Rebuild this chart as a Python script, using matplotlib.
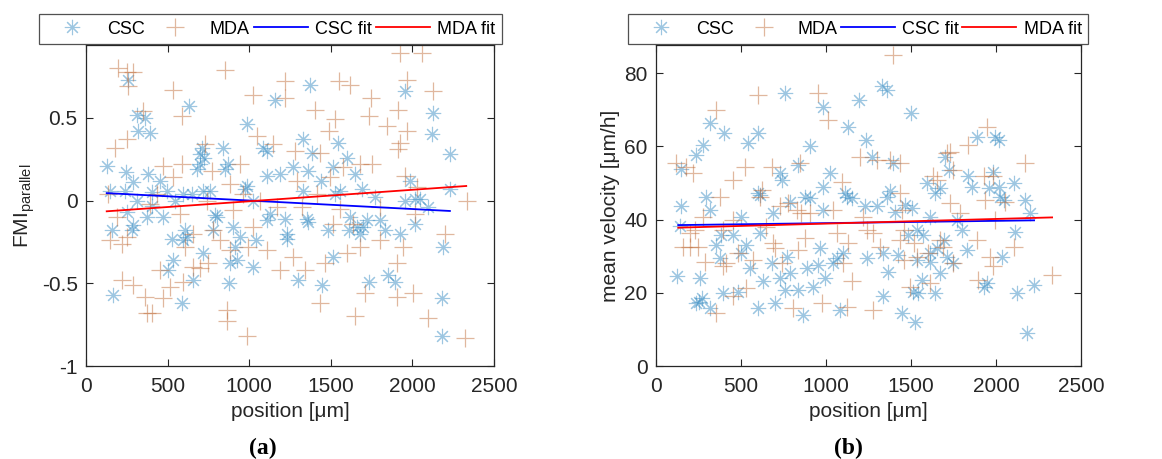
import numpy as np
import matplotlib.pyplot as plt

plt.rcParams['font.family'] = ['Liberation Sans', 'DejaVu Sans']
plt.rcParams['axes.unicode_minus'] = False
plt.rcParams['mathtext.fontset'] = 'custom'
plt.rcParams['mathtext.rm'] = 'Liberation Sans'

########################################################
# data
# (a) FMI parallel vs position
csc_a_x = [131, 259, 310, 320, 361, 392, 157, 163, 245, 239, 147, 290, 310, 249, 280, 290,
           382, 402, 453, 474, 494, 525, 504, 535, 545, 592, 607, 617, 596, 590, 633, 647,
           658, 678, 699, 709, 723, 719, 699, 719, 760, 780, 801, 790, 837, 850, 872, 882,
           878, 903, 923, 915, 944, 984, 974, 984, 1021, 1025, 1042, 1087, 1107, 1107, 1107,
           1127, 1158, 1189, 1219, 1230, 1234, 1270, 1301, 1328, 1332, 1352, 1362, 1373, 1383,
           1362, 1443, 1444, 1483, 1511, 1516, 1546, 1526, 1556, 1597, 1618, 1614, 1648, 1658,
           1679, 1699, 1689, 1720, 1736, 1771, 1801, 1832, 1852, 1893, 1924, 1954, 1985, 1954,
           2016, 2016, 2047, 2098, 2128, 2122, 2190, 2179, 2183, 2230, 2230, 372, 402]
csc_a_y = [0.21, 0.73, 0.52, 0.42, 0.50, 0.41, -0.18, -0.57, 0.17, 0.06, 0.06, 0.11, 0.00,
           -0.07, -0.18, -0.15, 0.16, 0.05, 0.12, -0.10, 0.06, -0.23, -0.42, -0.36, 0.00, 0.04,
           -0.18, -0.22, -0.24, -0.62, 0.57, 0.04, -0.48, 0.19, 0.28, 0.32, 0.26, 0.06, 0.22,
           -0.32, 0.06, -0.18, -0.10, -0.09, 0.32, 0.19, 0.22, -0.38, -0.50, -0.16, -0.36,
           -0.28, -0.22, 0.46, 0.07, 0.09, -0.40, 0.00, -0.24, 0.32, 0.30, 0.15, -0.12, -0.08,
           0.61, 0.16, -0.11, -0.20, -0.23, 0.20, -0.48, 0.37, 0.06, -0.11, -0.13, 0.70, 0.29,
           0.18, 0.12, -0.51, -0.18, -0.34, 0.20, 0.35, 0.04, 0.06, 0.26, -0.10, -0.18, 0.16,
           -0.16, -0.20, -0.16, 0.07, -0.12, -0.49, 0.02, -0.12, -0.18, -0.45, -0.49, -0.20,
           0.66, 0.12, 0.00, -0.14, 0.01, 0.01, -0.04, 0.53, 0.40, -0.28, -0.59, -0.82, 0.28,
           0.07, -0.10, -0.03]
mda_a_x = [198, 249, 290, 255, 531, 586, 852, 1025, 1219, 1219, 1552, 1618, 1924, 2057, 1965,
           2128, 1746, 1736, 1403, 1524, 1489, 1842, 1914, 1965, 1924, 1914, 1046, 1148, 178,
           249, 351, 474, 586, 729, 770, 882, 1281, 1291, 1434, 1495, 1577, 1679, 1750, 1954,
           2026, 2332, 137, 147, 188, 219, 249, 219, 290, 361, 372, 402, 474, 453, 515, 596,
           658, 699, 750, 862, 862, 984, 882, 995, 1025, 1107, 1189, 1270, 1342, 1434, 1464,
           1597, 1648, 1679, 1710, 1801, 1903, 1903, 2006, 2098, 2200, 2322, 1944, 780, 658,
           535, 433, 392, 739, 903, 1066, 964, 1168, 1321, 1556, 1638, 1516, 1413, 1801, 2016,
           607, 944, 821, 576]
mda_a_y = [0.80, 0.78, 0.78, 0.69, 0.67, 0.51, 0.79, 0.64, 0.72, 0.62, 0.72, 0.70, 0.89, 0.89,
           0.73, 0.66, 0.62, 0.51, 0.55, 0.49, 0.42, 0.45, 0.55, 0.42, 0.35, 0.31, 0.39, 0.34,
           0.32, 0.37, 0.54, 0.21, 0.22, 0.34, 0.18, 0.10, 0.30, 0.12, 0.29, 0.14, 0.20, 0.22,
           0.22, 0.15, 0.08, 0.00, 0.04, -0.24, -0.10, -0.26, -0.22, -0.48, -0.51, -0.58, -0.68,
           -0.68, -0.59, -0.42, -0.52, -0.49, -0.40, -0.41, -0.38, -0.66, -0.73, -0.82, -0.30,
           -0.28, -0.16, -0.30, -0.42, -0.34, -0.42, -0.62, -0.38, -0.32, -0.70, -0.28, -0.56,
           -0.24, -0.38, -0.58, -0.56, -0.71, -0.20, -0.83, -0.28, -0.18, -0.20, 0.14, 0.04,
           -0.02, 0.00, -0.06, 0.00, 0.04, -0.04, -0.04, -0.05, -0.14, -0.14, 0.04, -0.04,
           -0.08, -0.28, 0.22, -0.24, -0.08]

# (b) mean velocity vs position
csc_b_x = [126, 149, 149, 139, 238, 277, 316, 297, 316, 238, 253, 273, 257, 316, 355, 375,
           385, 395, 399, 455, 483, 503, 503, 532, 552, 542, 601, 601, 611, 611, 601, 632,
           689, 680, 699, 729, 739, 729, 758, 758, 768, 787, 787, 836, 836, 866, 875, 906,
           906, 886, 925, 955, 964, 984, 984, 984, 994, 1023, 1043, 1062, 1082, 1102, 1111,
           1121, 1131, 1151, 1196, 1229, 1235, 1239, 1269, 1298, 1338, 1328, 1358, 1338, 1358,
           1367, 1377, 1397, 1407, 1426, 1446, 1466, 1485, 1499, 1505, 1514, 1524, 1534, 1534,
           1544, 1573, 1564, 1593, 1613, 1613, 1613, 1642, 1642, 1652, 1672, 1672, 1692, 1701,
           1711, 1721, 1750, 1770, 1799, 1828, 1838, 1858, 1887, 1927, 1946, 1956, 1985, 1995,
           2015, 2015, 2025, 2035, 2045, 2104, 2113, 2123, 2172, 2182, 2202, 2221]
csc_b_y = [24.6, 43.7, 53.8, 38.3, 57.7, 60.4, 66.3, 46.3, 42.6, 17.1, 17.6, 18.5, 24.0, 15.8,
           33.1, 29.4, 35.8, 19.9, 63.6, 35.8, 20.3, 40.8, 30.8, 33.1, 26.7, 60.9, 63.6, 47.2,
           46.7, 36.3, 15.8, 23.1, 41.7, 28.1, 17.1, 52.7, 50.8, 24.0, 74.5, 20.8, 29.9, 44.9,
           25.3, 54.9, 20.8, 13.9, 46.3, 60.0, 45.8, 26.7, 21.7, 27.6, 32.2, 70.9, 42.6, 49.0,
           24.0, 52.7, 28.1, 29.4, 15.3, 30.8, 47.2, 46.3, 65.4, 45.8, 72.7, 43.6, 61.8, 29.4,
           57.2, 43.6, 30.8, 76.5, 75.3, 19.0, 46.3, 25.8, 47.7, 55.4, 42.2, 30.3, 14.4, 44.0,
           35.8, 69.1, 43.1, 20.3, 12.1, 37.2, 29.0, 19.9, 35.8, 23.5, 49.9, 40.8, 30.8, 28.5,
           47.2, 19.9, 32.2, 25.3, 48.6, 34.4, 57.2, 29.9, 53.6, 28.1, 39.9, 37.2, 31.7, 51.8,
           49.0, 62.7, 21.7, 22.6, 48.6, 53.1, 62.7, 61.8, 49.0, 46.3, 29.9, 45.4, 49.9, 36.7,
           19.9, 45.4, 8.9, 41.7, 22.1]
mda_b_x = [120, 179, 218, 198, 247, 198, 228, 277, 287, 355, 355, 375, 395, 414, 453, 453, 453,
           483, 522, 532, 571, 601, 611, 621, 650, 680, 689, 699, 729, 739, 778, 807, 827, 836,
           846, 856, 875, 905, 955, 975, 1013, 1043, 1062, 1092, 1102, 1121, 1131, 1151, 1200,
           1220, 1239, 1279, 1279, 1298, 1397, 1377, 1436, 1436, 1446, 1456, 1436, 1456, 1495,
           1515, 1534, 1603, 1613, 1632, 1652, 1672, 1691, 1711, 1730, 1750, 1730, 1750, 1790,
           1838, 1887, 1897, 1927, 1936, 1946, 1966, 1985, 1985, 1995, 2054, 2104, 2172, 2329,
           1318, 395, 159]
mda_b_y = [55.4, 54.5, 52.7, 32.6, 32.6, 36.3, 37.2, 40.8, 28.5, 14.4, 70.0, 46.3, 27.2, 28.1,
           50.8, 19.0, 39.9, 30.8, 54.5, 21.2, 29.0, 74.1, 46.3, 48.1, 38.1, 54.5, 33.5, 32.2,
           43.6, 28.1, 44.5, 15.8, 42.6, 31.7, 55.4, 41.7, 34.9, 41.7, 74.5, 17.1, 67.2, 42.6,
           36.3, 50.4, 28.1, 16.2, 33.5, 23.1, 57.2, 40.8, 37.2, 36.3, 15.3, 56.3, 85.0, 56.3,
           55.4, 47.2, 42.6, 37.2, 34.4, 29.0, 21.7, 33.5, 29.9, 30.8, 22.6, 51.8, 50.8, 34.4,
           32.6, 58.1, 58.6, 53.6, 44.5, 28.1, 41.7, 60.4, 34.4, 23.5, 51.8, 45.4, 65.4, 29.9,
           27.2, 51.8, 39.9, 44.9, 32.6, 55.4, 24.9, 32.6, 37.2, 32.6]

# linear fits (end points)
csc_fit_a_x, csc_fit_a_y = [127, 2230], [0.045, -0.063]
mda_fit_a_x, mda_fit_a_y = [127, 2330], [-0.065, 0.088]
csc_fit_b_x, csc_fit_b_y = [131, 2224], [38.5, 39.8]
mda_fit_b_x, mda_fit_b_y = [131, 2330], [37.8, 40.6]

yticks_a = [-1, -0.5, 0, 0.5]
yticklabels_a = ['-1', '-0.5', '0', '0.5']
yticks_b = [0, 20, 40, 60, 80]
yticklabels_b = ['0', '20', '40', '60', '80']

########################################################
CSC_COL = '#3C8FC4'
MDA_COL = '#C2703E'
ASTERISK = (8, 2, 0)
TXT = '#262626'

fig = plt.figure(figsize=(11.62, 4.59), dpi=100)

def draw_panel(rect, leg_rect, cx, cy, mx, my, cfx, cfy, mfx, mfy, ylim, yticks, yticklabels,
               ylabel, tag, tag_x):
    ax = fig.add_axes(rect)
    h1, = ax.plot(cx, cy, linestyle='none', marker=ASTERISK, ms=11, mew=0.8,
                  mec=CSC_COL, alpha=0.5)
    h2, = ax.plot(mx, my, linestyle='none', marker='+', ms=13, mew=0.9,
                  mec=MDA_COL, alpha=0.5)
    h3, = ax.plot(cfx, cfy, color='#0000FF', lw=1.3)
    h4, = ax.plot(mfx, mfy, color='#FF0000', lw=1.3)
    ax.set_xlim(0, 2500)
    ax.set_ylim(*ylim)
    ax.set_xticks([0, 500, 1000, 1500, 2000, 2500])
    ax.set_yticks(yticks)
    ax.set_yticklabels(yticklabels)
    ax.tick_params(direction='in', top=True, right=True, length=5, labelsize=15,
                   color=TXT, labelcolor=TXT)
    ax.tick_params(axis='x', pad=8)
    ax.tick_params(axis='y', pad=6)
    for s in ax.spines.values():
        s.set_color(TXT)
        s.set_linewidth(0.9)
    ax.set_xlabel('position [μm]', fontsize=15, color=TXT, labelpad=4)
    ax.set_ylabel(ylabel, fontsize=15, color=TXT, labelpad=3)
    leg = fig.legend([h1, h2, h3, h4], ['CSC', 'MDA', 'CSC fit', 'MDA fit'],
                     loc='lower left', bbox_to_anchor=leg_rect, mode='expand', ncol=4,
                     fancybox=False, edgecolor=TXT, fontsize=13, borderaxespad=0,
                     handlelength=3.0, handletextpad=0.4, columnspacing=0.2,
                     borderpad=0.35)
    leg.get_frame().set_linewidth(0.9)
    fig.text(tag_x, 0.0, tag, ha='center', va='bottom', fontsize=17,
             family='Liberation Serif', fontweight='bold')
    return ax

draw_panel([0.0740, 0.2026, 0.3511, 0.6993], (0.0336, 0.904, 0.398, 0.065),
           csc_a_x, csc_a_y, mda_a_x, mda_a_y,
           csc_fit_a_x, csc_fit_a_y, mda_fit_a_x, mda_fit_a_y,
           (-1, 0.94), yticks_a, yticklabels_a, r'FMI$_\mathregular{parallel}$', '(a)', 0.2265)
draw_panel([0.5645, 0.2026, 0.3658, 0.6993], (0.5404, 0.904, 0.396, 0.065),
           csc_b_x, csc_b_y, mda_b_x, mda_b_y,
           csc_fit_b_x, csc_fit_b_y, mda_fit_b_x, mda_fit_b_y,
           (0, 87.7), yticks_b, yticklabels_b, 'mean velocity [μm/h]', '(b)', 0.7305)

fig.savefig('out.png', dpi=100)
